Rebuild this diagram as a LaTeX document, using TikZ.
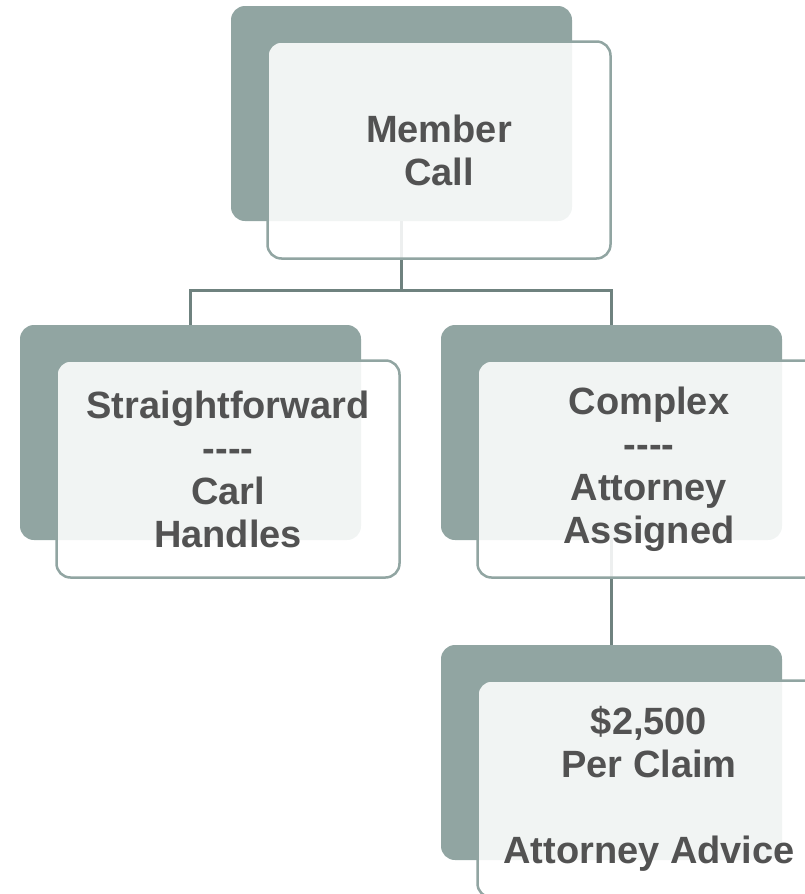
\documentclass[tikz,border=0pt]{standalone}
\usepackage{fontspec}
\setmainfont{Liberation Sans}
\usetikzlibrary{positioning,calc}
\usepackage{xcolor}
\definecolor{sgback}{RGB}{145,165,162}
\definecolor{sgline}{RGB}{111,130,127}
\definecolor{sgtext}{RGB}{82,82,82}
\tikzset{
    back/.style={
        fill=sgback,rounded corners=14pt,inner sep=0pt,
        minimum width=341pt,minimum height=215pt
    },
    front/.style={
        draw=sgback,line width=2.5pt,rounded corners=14pt,
        fill=white,fill opacity=.88,text opacity=1,
        minimum width=343pt,minimum height=217pt,
        align=center,text=sgtext,font=\fontsize{38}{43}\selectfont\bfseries
    },
    link/.style={
        line width=3pt,draw=sgline
    }
}

\begin{document}
\begin{tikzpicture}[x=1pt,y=-1pt]
\useasboundingbox (0,0) rectangle (805,894);
\clip (0,0) rectangle (805,894);

% back plates
\node[back] (callback) at (401.5,113.5) {};
\node[back] (easyback) at (190.5,432.5) {};
\node[back] (hardback) at (611.5,432.5) {};
\node[back] (feeback) at (611.5,752.5) {};

% tree lines
\coordinate (split) at (401.5,290);
\draw[link] (callback.south) -- (split) -| (easyback.north);
\draw[link] (split) -| (hardback.north);
\draw[link] (hardback.south) -- (feeback.north);

% front cards
\node[front] (call) at ($(callback)+(37.5,36.5)$) {Member\\Call};
\node[front] (easy) at ($(easyback)+(37.5,36.5)$)
{Straightforward\\-{}-{}-{}-\\Carl\\Handles};
\node[front] (hard) at ($(hardback)+(37.5,36.5)$)
{Complex\\-{}-{}-{}-\\Attorney\\Assigned};
\node[front] (fee) at ($(feeback)+(37.5,36.5)$)
{\$2,500\\Per Claim\\[43pt]Attorney Advice};

\end{tikzpicture}
\end{document}
